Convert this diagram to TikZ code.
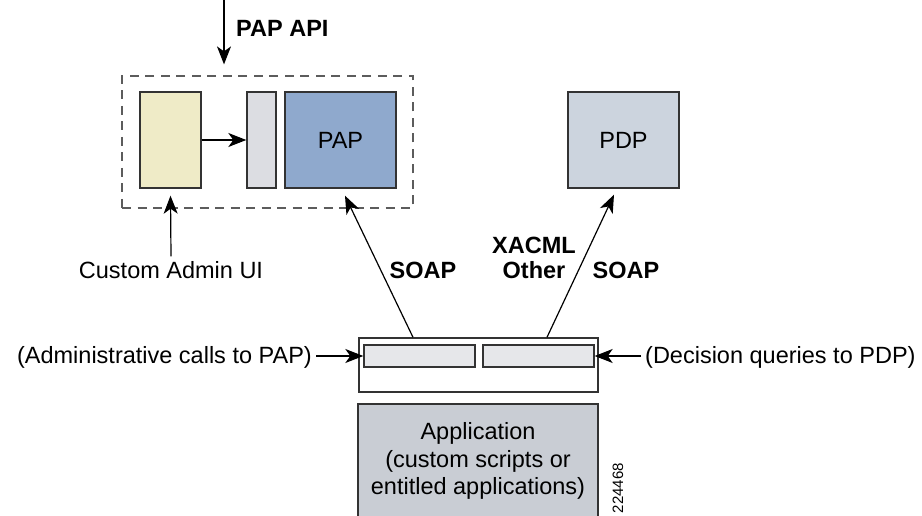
\documentclass[tikz,border=0pt]{standalone}
\usepackage{fontspec}
\setmainfont{Liberation Sans}
\usetikzlibrary{arrows.meta,calc}

\definecolor{edge}{HTML}{333333}
\definecolor{uifill}{HTML}{EFEBC7}
\definecolor{gatefill}{HTML}{DCDDE2}
\definecolor{papfill}{HTML}{8FA9CD}
\definecolor{pdpfill}{HTML}{CCD4DE}
\definecolor{appfill}{HTML}{C9CDD4}
\definecolor{slotfill}{HTML}{E6E7EA}

\begin{document}
\begin{tikzpicture}[x=1pt,y=-1pt,
  box/.style={draw=edge,line width=1.4pt,inner sep=0pt,anchor=center},
  txt/.style={font=\fontsize{23.5}{27.5}\selectfont,inner sep=0pt},
  btxt/.style={font=\fontsize{23.5}{27.5}\selectfont\bfseries,inner sep=0pt},
  arr/.style={-{Stealth[length=18pt,width=14pt,inset=5pt]},line width=1.2pt,draw=black}
]
\useasboundingbox (0,0) rectangle (922,516);

% policy administration group
\node[draw=edge!80,line width=1.2pt,dash pattern=on 9pt off 6.5pt,
      minimum width=291pt,minimum height=132pt,inner sep=0pt] (grp) at (267.5,142) {};
\node[box,fill=uifill,minimum width=61pt,minimum height=96pt] (ui) at (170.5,140) {};
\node[box,fill=gatefill,minimum width=29pt,minimum height=96pt] (gate) at (261.5,140) {};
\node[box,fill=papfill,minimum width=111pt,minimum height=96pt,txt] (pap) at (340.5,140) {PAP};

% decision point
\node[box,fill=pdpfill,minimum width=111pt,minimum height=96pt,txt] (pdp) at (623.5,140) {PDP};

% client front end and application
\node[box,fill=white,minimum width=239pt,minimum height=54pt] (front) at (478.5,365) {};
\node[box,fill=slotfill,minimum width=111pt,minimum height=22pt] (slotL) at (419.5,356) {};
\node[box,fill=slotfill,minimum width=111pt,minimum height=22pt] (slotR) at (538.5,356) {};
\node[box,fill=appfill,minimum width=240pt,minimum height=116pt] (app) at (478,462) {};
\node[txt,align=center] (apptxt) at (478,461)
  {Application\\(custom scripts or\\entitled applications)};

% labels
\node[btxt,anchor=west] (api) at (236,28) {PAP API};
\node[txt,anchor=base,inner sep=5pt] (cui) at (171,278.5) {Custom Admin UI};
\node[btxt] (soapL) at (423,270) {SOAP};
\node[btxt] (xacml) at (534,245) {XACML};
\node[btxt] (other) at (534,270) {Other};
\node[btxt] (soapR) at (626,270) {SOAP};
\node[txt,anchor=base east,inner xsep=4pt] (adm) at (316,363.5) {(Administrative calls to PAP)};
\node[txt,anchor=base west,inner xsep=4pt] (dec) at (641,363.5) {(Decision queries to PDP)};
\node[font=\fontsize{15}{15}\selectfont,rotate=90,inner sep=0pt] (fig) at (618,488) {224468};

% connectors
\coordinate (apitop) at (224,0);
\draw[arr] (apitop) -- ([yshift=11pt]grp.north -| apitop);
\draw[arr] (ui.east) -- (gate.west);
\draw[arr] (cui.north) -- ([yshift=-7pt]ui.south);
\draw[arr] ([xshift=-65.5pt]front.north) -- ([xshift=4.5pt,yshift=-7pt]pap.south);
\draw[arr] ([xshift=68.5pt]front.north) -- ([xshift=-9.5pt,yshift=-6pt]pdp.south);
\draw[arr] (adm.east |- slotL.west) -- (slotL.west);
\draw[arr] (dec.west |- slotR.east) -- (slotR.east);
\end{tikzpicture}
\end{document}
